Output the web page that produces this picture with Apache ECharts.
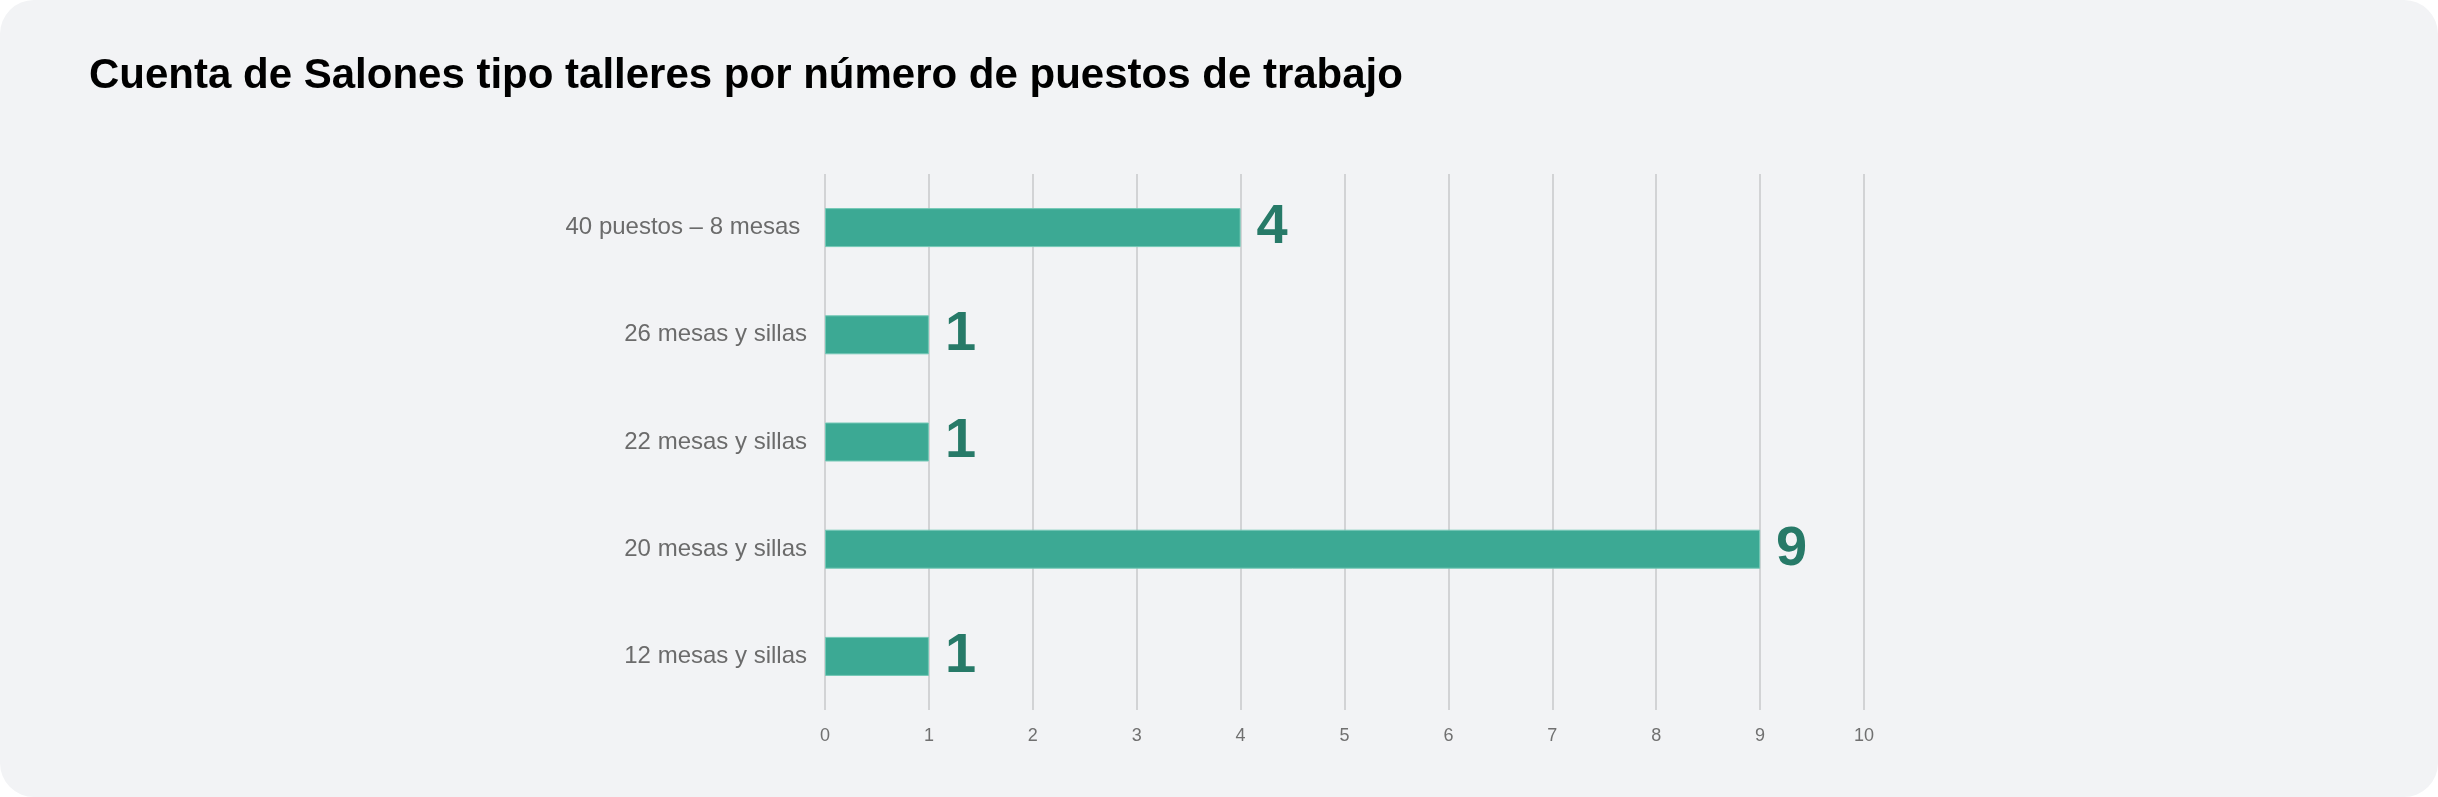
<!DOCTYPE html>
<html>
<head>
<meta charset="utf-8">
<script src="https://cdn.jsdelivr.net/npm/echarts@6/dist/echarts.min.js"></script>
<style>
  html, body { margin: 0; padding: 0; background: #ffffff; }
  #card { position: absolute; left: 0; top: 0; width: 2438px; height: 797px; background: #f2f3f5; border-radius: 34px; overflow: hidden; }
  #chart { width: 2438px; height: 797px; }
</style>
</head>
<body>
<div id="card"><div id="chart"></div></div>
<script>
const titleText = 'Cuenta de Salones tipo talleres por número de puestos de trabajo';
const categories = ['40 puestos – 8 mesas ', '26 mesas y sillas', '22 mesas y sillas', '20 mesas y sillas', '12 mesas y sillas'];
const counts = [4, 1, 1, 9, 1];
const axisMin = 0;
const axisMax = 10;
const axisInterval = 1;

const chart = echarts.init(document.getElementById('chart'), null, { renderer: 'canvas' });
chart.setOption({
  backgroundColor: 'transparent',
  animation: false,
  title: {
    text: titleText,
    left: 84,
    top: 50,
    textStyle: { fontFamily: 'Liberation Sans, Arial, sans-serif', fontSize: 42, fontWeight: 'bold', color: '#000000' }
  },
  grid: { left: 825, right: 574, top: 174, bottom: 87, containLabel: false },
  xAxis: {
    type: 'value',
    min: axisMin,
    max: axisMax,
    interval: axisInterval,
    axisLine: { show: false },
    axisTick: { show: false },
    splitLine: { show: true, lineStyle: { color: '#d2d3d5', width: 2 } },
    axisLabel: { fontFamily: 'Liberation Sans, Arial, sans-serif', fontSize: 18, color: '#707070', margin: 17 }
  },
  yAxis: {
    type: 'category',
    data: categories,
    inverse: true,
    axisLine: { show: false },
    axisTick: { show: false },
    axisLabel: { fontFamily: 'Liberation Sans, Arial, sans-serif', fontSize: 24, color: '#6b6b6b', margin: 18 }
  },
  series: [{
    type: 'bar',
    data: counts,
    barWidth: 39,
    itemStyle: { color: '#3ca994', borderColor: '#74c8b6', borderWidth: 1 },
    label: {
      show: true,
      position: 'right',
      distance: 16,
      fontFamily: 'Liberation Sans, Arial, sans-serif',
      fontSize: 56,
      fontWeight: 'bold',
      color: '#277a68'
    }
  }]
});
</script>
</body>
</html>
